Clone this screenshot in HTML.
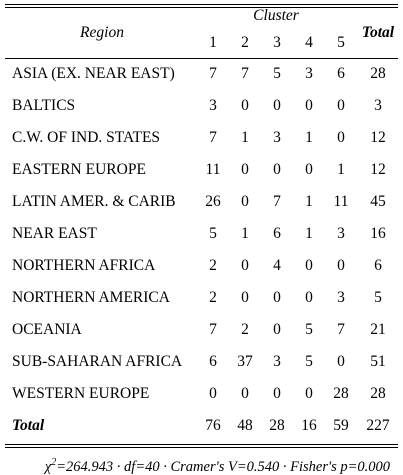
<!DOCTYPE html>
<html><head><meta charset="utf-8"><style>
body{margin:0;width:403px;height:475px;background:#fff;font-family:"Liberation Serif",serif;color:#000;position:relative;overflow:hidden}
.t{position:absolute;font-size:15.5px;white-space:nowrap;line-height:16px}
.c{transform:translateX(-50%)}
.line{position:absolute;left:5px;width:393px;background:#000;height:1px}
</style></head><body>
<div class="line" style="top:4px"></div>
<div class="line" style="top:7px"></div>
<div class="t c" style="left:276px;top:8px;font-style:italic">Cluster</div>
<div class="t c" style="left:102px;top:25px;font-style:italic">Region</div>
<div class="t c" style="left:378px;top:25px;font-style:italic;font-weight:bold">Total</div>
<div class="line" style="top:58px"></div>
<div class="line" style="top:444px"></div>
<div class="line" style="top:447px"></div>
<div class="t" style="right:13px;top:455px;font-style:italic;font-size:14.5px"><i>χ</i><sup style="font-size:10px">2</sup>=264.943 · df=40 · Cramer's V=0.540 · Fisher's p=0.000</div>
<script>
const regions=["ASIA (EX. NEAR EAST)","BALTICS","C.W. OF IND. STATES","EASTERN EUROPE","LATIN AMER. & CARIB","NEAR EAST","NORTHERN AFRICA","NORTHERN AMERICA","OCEANIA","SUB-SAHARAN AFRICA","WESTERN EUROPE"];
const c1=[7,3,7,11,26,5,2,2,7,6,0];
const c2=[7,0,1,0,0,1,0,0,2,37,0];
const c3=[5,0,3,0,7,6,4,0,0,3,0];
const c4=[3,0,1,0,1,1,0,0,5,5,0];
const c5=[6,0,0,1,11,3,0,3,7,0,28];
const clusters=["1","2","3","4","5"];
const colX=[213,245,277,309,341];
function add(txt,x,y,cls,name,style){const d=document.createElement('div');d.className='t '+cls;d.textContent=txt;d.style.left=x+'px';d.style.top=y+'px';if(style)d.style.cssText+=style;


document.body.appendChild(d);}
clusters.forEach((c,i)=>add(c,colX[i],35,'c','cluster-label-'+c));
const cols=[c1,c2,c3,c4,c5];
regions.forEach((r,i)=>{const y=66+i*32;
add(r,12,y,'','region-label');
let tot=0;cols.forEach((a,j)=>{tot+=a[i];add(String(a[i]),colX[j],y,'c','cell-value');});
add(String(tot),378,y,'c','row-total');});
const ty=66+regions.length*32;
add('Total',12,ty,'','total-label','font-weight:bold;font-style:italic');
let g=0;cols.forEach((a,j)=>{const s=a.reduce((p,q)=>p+q,0);g+=s;add(String(s),colX[j],ty,'c','column-total');});
add(String(g),378,ty,'c','grand-total');
</script>
</body></html>
